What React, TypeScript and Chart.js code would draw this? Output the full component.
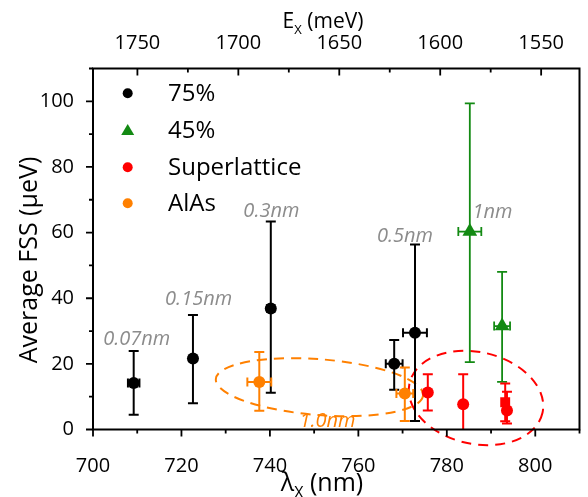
import React, { useEffect, useRef } from 'react';
import { Chart, registerables } from 'chart.js';

Chart.register(...registerables);

// ---------- axis ticks ----------
const xTicks = [700, 720, 740, 760, 780, 800];
const xMinorTicks = [710, 730, 750, 770, 790, 810];
const yTicks = [0, 20, 40, 60, 80, 100];
const yMinorTicks = [10, 30, 50, 70, 90, 110];
const eTicks = [1750, 1700, 1650, 1600, 1550];
const eMinorTicks = [1725, 1675, 1625, 1575];

// ---------- series ----------
const seriesNames = ['75%', '45%', 'Superlattice', 'AlAs'];

const lambda75 = [709.2, 722.6, 740.2, 768.1, 772.8];
const fss75 = [14.2, 21.6, 36.9, 20.0, 29.5];
const fss75Low = [4.5, 8.0, 11.2, 12.1, 2.6];
const fss75High = [23.9, 34.9, 63.4, 27.3, 56.4];
const lambda75Err = [1.3, 0, 0.8, 1.9, 2.7];

const lambda45 = [785.2, 792.5];
const fss45 = [60.3, 31.5];
const fss45Low = [20.5, 14.5];
const fss45High = [99.4, 48.0];
const lambda45Err = [2.6, 1.8];

const lambdaSL = [775.7, 783.7, 793.2, 793.6];
const fssSL = [11.3, 7.7, 8.3, 5.8];
const fssSLLow = [5.8, -1, 2.5, 1.8];
const fssSLHigh = [16.8, 16.8, 14.0, 11.5];
const lambdaSLErr = [0, 0, 0, 0];
const shapeSL = ['circle', 'circle', 'rect', 'circle'];

const lambdaAlAs = [737.6, 770.5];
const fssAlAs = [14.5, 11.0];
const fssAlAsLow = [5.7, 2.6];
const fssAlAsHigh = [23.6, 18.9];
const lambdaAlAsErr = [2.7, 1.9];

// ---------- annotations ----------
const labelTexts = ['0.07nm', '0.15nm', '0.3nm', '0.5nm', '1nm', '1.0nm'];
const labelLambda = [702.3, 716.3, 734.0, 764.2, 785.8, 746.7];
const labelFss = [25.7, 38.0, 64.6, 57.0, 64.5, 0.8];

const ellipseLambda = [751.2, 786.6];
const ellipseFss = [12.9, 9.6];
const ellipseLambdaRadius = [23.5, 15.4];
const ellipseFssRadius = [8.5, 14.0];
const ellipseTiltDeg = [4.5, 12.5];

// ---------- styles ----------
const FONT = "'Open Sans', 'DejaVu Sans', sans-serif";
const C_BLACK = '#000000';
const C_GREEN = '#138a13';
const C_RED = '#ff0000';
const C_ORANGE = '#ff8000';
const C_GRAY = '#8c8c8c';
const seriesColors = [C_BLACK, C_GREEN, C_RED, C_ORANGE];
const labelColors = [C_GRAY, C_GRAY, C_GRAY, C_GRAY, C_GRAY, C_ORANGE];
const ellipseColors = [C_ORANGE, C_RED];

function mk(lx: number[], fy: number[], lo: number[], hi: number[], xe: number[]) {
  return lx.map((x, i) => ({ x, y: fy[i], yLo: lo[i], yHi: hi[i], xErr: xe[i] }));
}

const decorPlugin = {
  id: 'decor',
  beforeDatasetsDraw(chart: any) {
    const { ctx, chartArea: a, scales } = chart;
    const xs = scales.x, ys = scales.y;
    ctx.save();
    for (let i = 0; i < ellipseLambda.length; i++) {
      const cx = xs.getPixelForValue(ellipseLambda[i]);
      const cy = ys.getPixelForValue(ellipseFss[i]);
      const rx = Math.abs(xs.getPixelForValue(ellipseLambda[i] + ellipseLambdaRadius[i]) - cx);
      const ry = Math.abs(ys.getPixelForValue(ellipseFss[i] + ellipseFssRadius[i]) - cy);
      ctx.beginPath();
      ctx.ellipse(cx, cy, rx, ry, (ellipseTiltDeg[i] * Math.PI) / 180, 0, Math.PI * 2);
      ctx.setLineDash([10, 7]);
      ctx.lineWidth = 2;
      ctx.strokeStyle = ellipseColors[i];
      ctx.stroke();
    }
    ctx.restore();
    ctx.save();
    ctx.beginPath();
    ctx.rect(a.left, a.top, a.right - a.left, a.bottom - a.top);
    ctx.clip();
    chart.data.datasets.forEach((ds: any) => {
      ctx.strokeStyle = ds.borderColor;
      ctx.lineWidth = ds.errWidth;
      ds.data.forEach((p: any) => {
        const px = xs.getPixelForValue(p.x);
        const py = ys.getPixelForValue(p.y);
        const yt = ys.getPixelForValue(p.yHi);
        const yb = ys.getPixelForValue(p.yLo);
        ctx.beginPath();
        ctx.moveTo(px, yt); ctx.lineTo(px, yb);
        ctx.moveTo(px - 5, yt); ctx.lineTo(px + 5, yt);
        ctx.moveTo(px - 5, yb); ctx.lineTo(px + 5, yb);
        if (p.xErr > 0) {
          const xl = xs.getPixelForValue(p.x - p.xErr);
          const xr = xs.getPixelForValue(p.x + p.xErr);
          ctx.moveTo(xl, py); ctx.lineTo(xr, py);
          ctx.moveTo(xl, py - 4.5); ctx.lineTo(xl, py + 4.5);
          ctx.moveTo(xr, py - 4.5); ctx.lineTo(xr, py + 4.5);
        }
        ctx.stroke();
      });
    });
    ctx.restore();
  },
  afterDraw(chart: any) {
    const { ctx, chartArea: a, scales } = chart;
    const xs = scales.x, ys = scales.y, es = scales.x2;
    ctx.save();
    ctx.strokeStyle = '#000';
    ctx.lineWidth = 2;
    ctx.strokeRect(a.left, a.top, a.right - a.left, a.bottom - a.top);
    ctx.lineWidth = 1.8;
    ctx.beginPath();
    const tk = (vals: number[], len: number, f: (v: number, l: number) => void) => vals.forEach(v => f(v, len));
    tk(xTicks, 7, (v, l) => { const p = xs.getPixelForValue(v); ctx.moveTo(p, a.bottom); ctx.lineTo(p, a.bottom + l); });
    tk(xMinorTicks, 4, (v, l) => { const p = xs.getPixelForValue(v); ctx.moveTo(p, a.bottom); ctx.lineTo(p, a.bottom + l); });
    tk(yTicks, 7, (v, l) => { const p = ys.getPixelForValue(v); ctx.moveTo(a.left, p); ctx.lineTo(a.left - l, p); });
    tk(yMinorTicks, 4, (v, l) => { const p = ys.getPixelForValue(v); ctx.moveTo(a.left, p); ctx.lineTo(a.left - l, p); });
    tk(eTicks, 7, (v, l) => { const p = es.getPixelForValue(v); ctx.moveTo(p, a.top); ctx.lineTo(p, a.top + l); });
    tk(eMinorTicks, 4, (v, l) => { const p = es.getPixelForValue(v); ctx.moveTo(p, a.top); ctx.lineTo(p, a.top + l); });
    ctx.stroke();

    const subTitle = (main: string, sub: string, rest: string, size: number, cx: number, baseY: number) => {
      ctx.fillStyle = '#000';
      ctx.textBaseline = 'alphabetic';
      ctx.textAlign = 'left';
      const fMain = `${size}px ${FONT}`;
      const fSub = `${Math.round(size * 0.64)}px ${FONT}`;
      ctx.font = fMain; const w1 = ctx.measureText(main).width; const w3 = ctx.measureText(rest).width;
      ctx.font = fSub; const w2 = ctx.measureText(sub).width;
      let x = cx - (w1 + w2 + w3) / 2;
      ctx.font = fMain; ctx.fillText(main, x, baseY); x += w1;
      ctx.font = fSub; ctx.fillText(sub, x, baseY + size * 0.28); x += w2;
      ctx.font = fMain; ctx.fillText(rest, x, baseY);
    };
    subTitle('E', 'X', ' (meV)', 21, 323, 28);
    subTitle('\u03BB', 'X', ' (nm)', 25, 322, 491);

    ctx.save();
    ctx.translate(37, 260);
    ctx.rotate(-Math.PI / 2);
    ctx.font = `25px ${FONT}`;
    ctx.textAlign = 'center';
    ctx.textBaseline = 'alphabetic';
    ctx.fillStyle = '#000';
    ctx.fillText('Average FSS (\u00B5eV)', 0, 0);
    ctx.restore();

    const legY = [93.3, 130, 167.3, 203.3];
    const mx = 127.7;
    seriesNames.forEach((name, i) => {
      const y = legY[i];
      ctx.fillStyle = seriesColors[i];
      ctx.beginPath();
      if (i === 1) {
        ctx.moveTo(mx, y - 6); ctx.lineTo(mx + 6.5, y + 5); ctx.lineTo(mx - 6.5, y + 5); ctx.closePath();
      } else {
        ctx.arc(mx, y, 5, 0, Math.PI * 2);
      }
      ctx.fill();
      ctx.fillStyle = '#000';
      ctx.font = `24px ${FONT}`;
      ctx.textAlign = 'left';
      ctx.textBaseline = 'middle';
      ctx.fillText(name, 168, y + 1);
    });

    ctx.font = `italic 20px ${FONT}`;
    ctx.textAlign = 'left';
    ctx.textBaseline = 'alphabetic';
    labelTexts.forEach((t, i) => {
      ctx.fillStyle = labelColors[i];
      ctx.fillText(t, xs.getPixelForValue(labelLambda[i]), ys.getPixelForValue(labelFss[i]));
    });
    ctx.restore();
  },
};

const plain = (v: any) => String(v);

export default function App() {
  const ref = useRef<HTMLCanvasElement>(null);
  useEffect(() => {
    const datasets = [
      { label: seriesNames[0], data: mk(lambda75, fss75, fss75Low, fss75High, lambda75Err), backgroundColor: C_BLACK, borderColor: C_BLACK, pointStyle: 'circle', pointRadius: 6, errWidth: 2 },
      { label: seriesNames[1], data: mk(lambda45, fss45, fss45Low, fss45High, lambda45Err), backgroundColor: C_GREEN, borderColor: C_GREEN, pointStyle: 'triangle', pointRadius: 8.5, errWidth: 1.8 },
      { label: seriesNames[2], data: mk(lambdaSL, fssSL, fssSLLow, fssSLHigh, lambdaSLErr), backgroundColor: C_RED, borderColor: C_RED, pointStyle: shapeSL, pointRadius: shapeSL.map(s => (s === 'rect' ? 7 : 6)), errWidth: 2 },
      { label: seriesNames[3], data: mk(lambdaAlAs, fssAlAs, fssAlAsLow, fssAlAsHigh, lambdaAlAsErr), backgroundColor: C_ORANGE, borderColor: C_ORANGE, pointStyle: 'circle', pointRadius: 6, errWidth: 2 },
    ];
    const chart = new Chart(ref.current as HTMLCanvasElement, {
      type: 'scatter',
      data: { datasets: datasets as any },
      options: {
        animation: false,
        responsive: true,
        maintainAspectRatio: false,
        layout: { padding: { left: 0, right: 1.5, top: 0, bottom: 0 } },
        plugins: { legend: { display: false }, tooltip: { enabled: false } },
        elements: { point: { borderWidth: 0 } },
        scales: {
          x: {
            type: 'linear', position: 'bottom', min: 700, max: 810,
            grid: { display: false }, border: { display: false },
            afterBuildTicks: (s: any) => { s.ticks = xTicks.map(v => ({ value: v })); },
            afterFit: (s: any) => { s.height = 67.5; },
            ticks: { font: { size: 20, family: FONT }, color: '#000', padding: 17, maxRotation: 0, callback: plain },
          },
          x2: {
            type: 'linear', position: 'top', min: 1531, max: 1772, reverse: true,
            grid: { display: false }, border: { display: false },
            afterBuildTicks: (s: any) => { s.ticks = eTicks.map(v => ({ value: v })); },
            afterFit: (s: any) => { s.height = 68.5; },
            ticks: { font: { size: 20, family: FONT }, color: '#000', padding: 5, maxRotation: 0, callback: plain },
          },
          y: {
            type: 'linear', position: 'left', min: 0, max: 110,
            grid: { display: false }, border: { display: false },
            afterBuildTicks: (s: any) => { s.ticks = yTicks.map(v => ({ value: v })); },
            afterFit: (s: any) => { s.width = 93; },
            ticks: { font: { size: 20, family: FONT }, color: '#000', padding: 11, callback: plain },
          },
        },
      } as any,
      plugins: [decorPlugin],
    });
    return () => chart.destroy();
  }, []);
  return (
    <div style={{ position: 'absolute', left: 0, top: 0, width: 588, height: 497, background: '#fff' }}>
      <canvas ref={ref} />
    </div>
  );
}
